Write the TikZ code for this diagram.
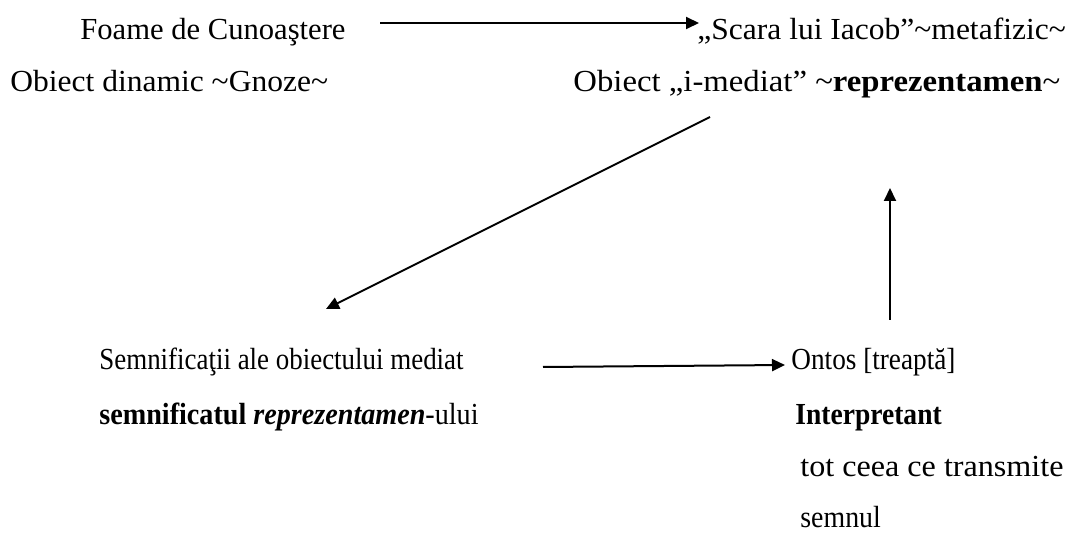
\documentclass[tikz,border=0pt]{standalone}
\usepackage{graphicx}
\usepackage{fontspec}
\setmainfont{Liberation Serif}
\usetikzlibrary{arrows.meta, positioning, calc}
\tikzstyle{arrow} = [line width=1pt, -{Triangle[length=6.5pt,width=6pt]}]
\tikzstyle{txt} = [anchor=base west, inner sep=0pt, font=\fontsize{15.3}{18}\selectfont]
\newcommand{\squeezetext}[2]{\scalebox{#1}[1]{#2}}

\begin{document}
\begin{tikzpicture}[x=0.5pt, y=-0.5pt]
                \useasboundingbox (0,0) rectangle (1084,540);

                % upper rows
                \node[txt] (foame) at (80,40) {Foame de Cunoaştere};
                \node[txt] (scara) at (697,40) {\squeezetext{1.03}{„Scara lui Iacob”\textasciitilde metafizic\textasciitilde}};
                \node[txt] (dinamic) at (10,92) {\squeezetext{1.03}{Obiect dinamic \textasciitilde Gnoze\textasciitilde}};
                \node[txt] (imediat) at (573,92) {\squeezetext{1.07}{Obiect „i-mediat” \textasciitilde\textbf{reprezentamen}\textasciitilde}};

                % lower rows
                \node[txt] (semnif) at (99,370) {\squeezetext{0.88}{Semnificaţii ale obiectului mediat}};
                \node[txt] (semnificat) at (99,425) {\squeezetext{0.92}{\textbf{semnificatul \textit{reprezentamen}}-ului}};
                \node[txt] (ontos) at (791,370) {\squeezetext{0.89}{Ontos [treaptă]}};
                \node[txt] (interp) at (795,425) {\squeezetext{0.9}{\textbf{Interpretant}}};
                \node[txt] (tot) at (800,477) {\squeezetext{1.05}{tot ceea ce transmite}};
                \node[txt] (semnul) at (800,528) {\squeezetext{0.91}{semnul}};

                % free ends of the arrows
                \coordinate (a1s) at (380,23);
                \coordinate (a1e) at (699,23);
                \coordinate (a2s) at (710,117);
                \coordinate (a2e) at (326,309);
                \coordinate (a3s) at (543,367);
                \coordinate (a3e) at (785,365);
                \coordinate (a4s) at (890,320);
                \coordinate (a4e) at (890,188);

                \draw[arrow] (a1s) -- (a1e);
                \draw[arrow] (a2s) -- (a2e);
                \draw[arrow] (a3s) -- (a3e);
                \draw[arrow] (a4s) -- (a4e);
            \end{tikzpicture}
\end{document}
